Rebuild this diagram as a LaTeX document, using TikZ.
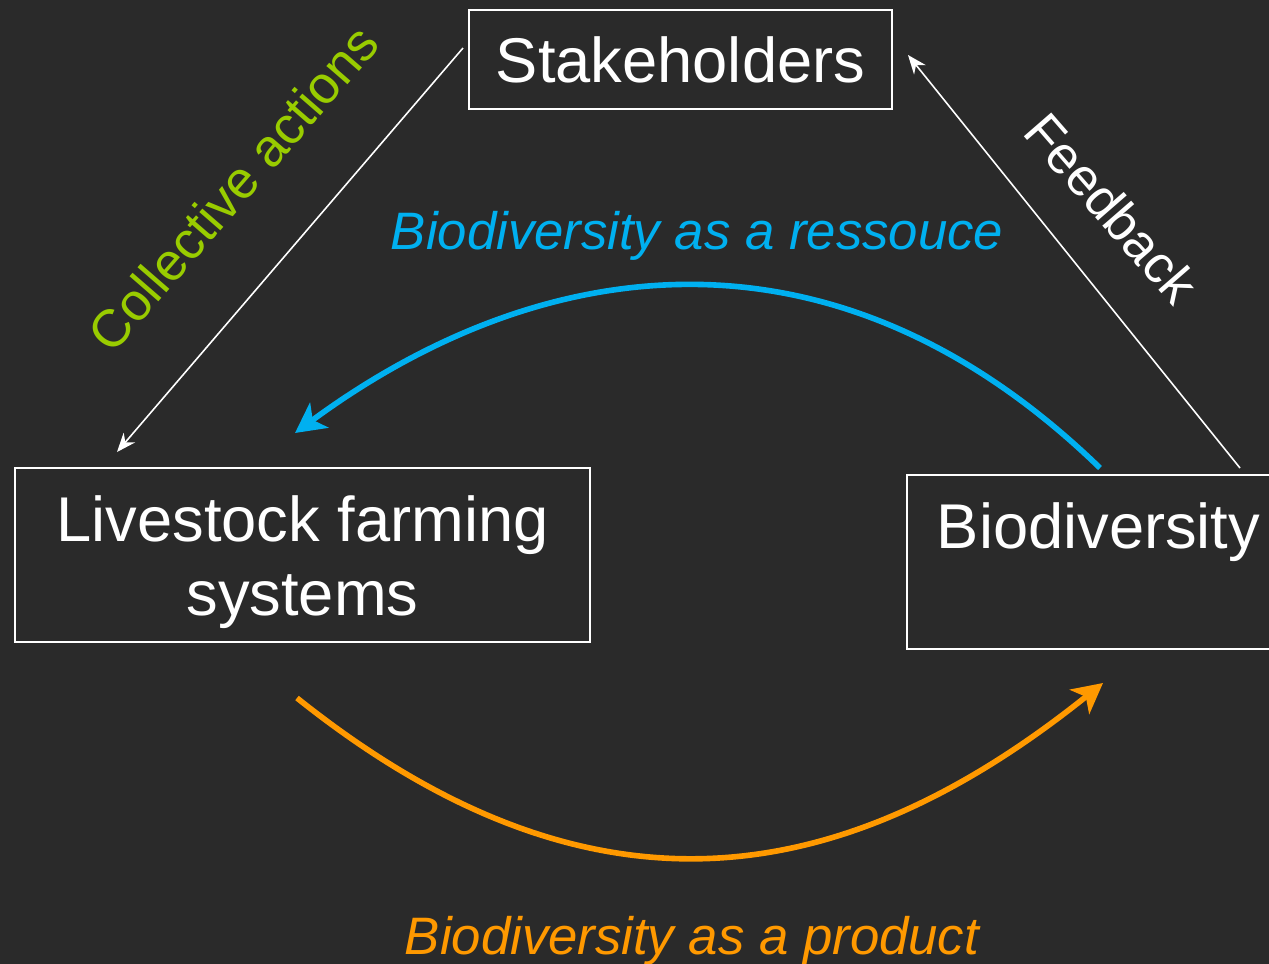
\documentclass[tikz,border=0pt]{standalone}
\usepackage{fontspec}
\setmainfont{Liberation Sans}
\usetikzlibrary{arrows.meta}
\usetikzlibrary{positioning}

\definecolor{bgdark}{RGB}{42,42,42}
\definecolor{resblue}{RGB}{0,176,240}
\definecolor{prodorange}{RGB}{255,153,0}
\definecolor{actgreen}{RGB}{153,204,0}

\tikzset{
    box/.style={rectangle, draw=white, line width=1.2pt, text=white, align=center,
        font=\fontsize{36}{42}\selectfont},
    thin arrow/.style={draw=white, line width=0.9pt, -{Stealth[length=0.38cm,width=0.3cm]}},
    thick arrow/.style={line width=3.2pt, -{Stealth[length=0.6cm,width=0.62cm,inset=0.16cm]}},
    label text/.style={font=\fontsize{30}{36}\selectfont},
    italic text/.style={font=\fontsize{30}{36}\selectfont\itshape}
}

\begin{document}
\begin{tikzpicture}[x=0.02cm, y=-0.02cm]
    \fill[bgdark] (0,0) rectangle (1269,964);
    \useasboundingbox (0,0) rectangle (1269,964);

    \draw (680.5, 59.5) node[box, minimum width=8.46cm, minimum height=1.98cm] (stake) {Stakeholders};
    \draw (302.5, 555) node[box, minimum width=11.5cm, minimum height=3.48cm] (farm) {};
    \draw (302.5, 562) node[box, draw=none] (farm text) {Livestock farming\\systems};
    \draw (1098.5, 562) node[box, minimum width=7.66cm, minimum height=3.48cm] (bio) {Biodiversity\\~};

    \coordinate (ca start) at (463, 48);
    \coordinate (ca end) at (117, 452);
    \coordinate (fb start) at (1240, 468);
    \coordinate (fb end) at (908, 55);
    \draw[thin arrow] (ca start) -- (ca end);
    \draw[thin arrow] (fb start) -- (fb end);

    % resource loop (top) and product loop (bottom)
    \coordinate (res start) at (1100, 468);
    \coordinate (res end) at (295, 433);
    \coordinate (prod start) at (297, 698);
    \coordinate (prod end) at (1103, 683);
    \draw[thick arrow, resblue] (res start) .. controls (834, 210) and (541, 252) .. (res end);
    \draw[thick arrow, prodorange] (prod start) .. controls (585, 928) and (836, 897) .. (prod end);

    \draw (233, 188) node[label text, text=actgreen, rotate=49] (collective) {Collective actions};
    \draw (1112, 208) node[label text, text=white, rotate=-49] (feedback) {Feedback};
    \draw (697, 236) node[italic text, text=resblue] (resource) {Biodiversity as a ressouce};
    \draw (692, 941) node[italic text, text=prodorange] (product) {Biodiversity as a product};
\end{tikzpicture}
\end{document}
